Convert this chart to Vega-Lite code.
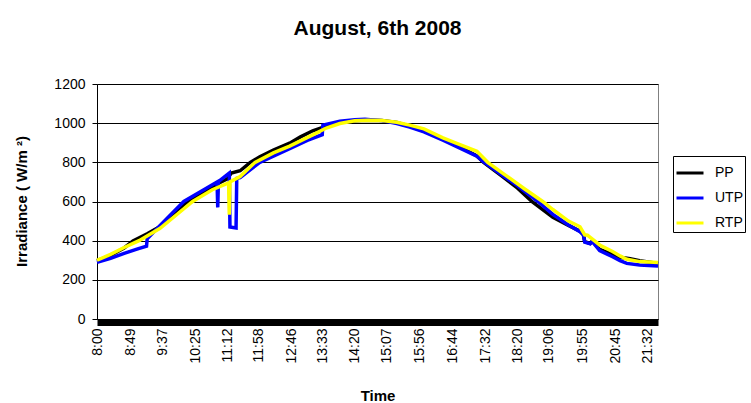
{
  "$schema": "https://vega.github.io/schema/vega-lite/v6.json",
  "width": 561,
  "height": 235,
  "autosize": {"type": "none"},
  "padding": {"left": 97, "top": 84, "right": 93, "bottom": 84},
  "background": "white",
  "config": {"font": "Liberation Sans", "view": {"stroke": "#808080", "strokeWidth": 1}},
  "title": {"text": "August, 6th 2008", "fontSize": 21, "fontWeight": "bold", "font": "Liberation Sans", "color": "black", "offset": 38, "anchor": "middle"},
  "data": {"values": [
    {"s":"PP","t":480,"v":298},{"s":"PP","t":500,"v":325},{"s":"PP","t":520,"v":363},{"s":"PP","t":533,"v":398},{"s":"PP","t":554,"v":435},{"s":"PP","t":573,"v":472},{"s":"PP","t":590,"v":530},{"s":"PP","t":614,"v":600},{"s":"PP","t":640,"v":655},{"s":"PP","t":660,"v":695},{"s":"PP","t":672,"v":715},{"s":"PP","t":678,"v":745},{"s":"PP","t":691,"v":757},{"s":"PP","t":706,"v":800},{"s":"PP","t":720,"v":828},{"s":"PP","t":740,"v":862},{"s":"PP","t":764,"v":898},{"s":"PP","t":780,"v":930},{"s":"PP","t":798,"v":961},{"s":"PP","t":818,"v":985},{"s":"PP","t":838,"v":1003},{"s":"PP","t":860,"v":1012},{"s":"PP","t":880,"v":1015},{"s":"PP","t":900,"v":1013},{"s":"PP","t":922,"v":1003},{"s":"PP","t":941,"v":985},{"s":"PP","t":962,"v":960},{"s":"PP","t":990,"v":918},{"s":"PP","t":1015,"v":878},{"s":"PP","t":1040,"v":833},{"s":"PP","t":1050,"v":800},{"s":"PP","t":1075,"v":735},{"s":"PP","t":1100,"v":668},{"s":"PP","t":1121,"v":600},{"s":"PP","t":1152,"v":519},{"s":"PP","t":1175,"v":478},{"s":"PP","t":1192,"v":449},{"s":"PP","t":1197,"v":430},{"s":"PP","t":1199,"v":395},{"s":"PP","t":1207,"v":386},{"s":"PP","t":1210,"v":398},{"s":"PP","t":1221,"v":355},{"s":"PP","t":1240,"v":330},{"s":"PP","t":1251,"v":315},{"s":"PP","t":1266,"v":308},{"s":"PP","t":1280,"v":298},{"s":"PP","t":1307,"v":283},
    {"s":"UTP","t":480,"v":290},{"s":"UTP","t":500,"v":310},{"s":"UTP","t":520,"v":335},{"s":"UTP","t":540,"v":358},{"s":"UTP","t":553,"v":372},{"s":"UTP","t":554,"v":410},{"s":"UTP","t":573,"v":478},{"s":"UTP","t":608,"v":600},{"s":"UTP","t":640,"v":665},{"s":"UTP","t":657,"v":700},{"s":"UTP","t":658,"v":570},{"s":"UTP","t":659,"v":702},{"s":"UTP","t":675,"v":745},{"s":"UTP","t":676,"v":470},{"s":"UTP","t":685,"v":465},{"s":"UTP","t":686,"v":718},{"s":"UTP","t":691,"v":722},{"s":"UTP","t":720,"v":800},{"s":"UTP","t":764,"v":870},{"s":"UTP","t":790,"v":912},{"s":"UTP","t":812,"v":941},{"s":"UTP","t":813,"v":990},{"s":"UTP","t":838,"v":1010},{"s":"UTP","t":860,"v":1018},{"s":"UTP","t":875,"v":1020},{"s":"UTP","t":900,"v":1013},{"s":"UTP","t":922,"v":998},{"s":"UTP","t":941,"v":980},{"s":"UTP","t":962,"v":956},{"s":"UTP","t":990,"v":913},{"s":"UTP","t":1015,"v":873},{"s":"UTP","t":1040,"v":831},{"s":"UTP","t":1049,"v":805},{"s":"UTP","t":1075,"v":740},{"s":"UTP","t":1100,"v":680},{"s":"UTP","t":1130,"v":600},{"s":"UTP","t":1152,"v":534},{"s":"UTP","t":1175,"v":480},{"s":"UTP","t":1192,"v":446},{"s":"UTP","t":1197,"v":430},{"s":"UTP","t":1199,"v":392},{"s":"UTP","t":1207,"v":384},{"s":"UTP","t":1210,"v":396},{"s":"UTP","t":1221,"v":349},{"s":"UTP","t":1240,"v":318},{"s":"UTP","t":1251,"v":298},{"s":"UTP","t":1261,"v":284},{"s":"UTP","t":1280,"v":276},{"s":"UTP","t":1307,"v":271},
    {"s":"RTP","t":480,"v":300},{"s":"RTP","t":500,"v":330},{"s":"RTP","t":520,"v":365},{"s":"RTP","t":542,"v":400},{"s":"RTP","t":573,"v":463},{"s":"RTP","t":600,"v":540},{"s":"RTP","t":621,"v":600},{"s":"RTP","t":650,"v":660},{"s":"RTP","t":674,"v":695},{"s":"RTP","t":675,"v":532},{"s":"RTP","t":676,"v":700},{"s":"RTP","t":691,"v":727},{"s":"RTP","t":713,"v":800},{"s":"RTP","t":740,"v":848},{"s":"RTP","t":764,"v":883},{"s":"RTP","t":798,"v":940},{"s":"RTP","t":818,"v":975},{"s":"RTP","t":838,"v":998},{"s":"RTP","t":860,"v":1012},{"s":"RTP","t":880,"v":1015},{"s":"RTP","t":900,"v":1014},{"s":"RTP","t":922,"v":1005},{"s":"RTP","t":941,"v":990},{"s":"RTP","t":962,"v":971},{"s":"RTP","t":990,"v":925},{"s":"RTP","t":1015,"v":890},{"s":"RTP","t":1040,"v":856},{"s":"RTP","t":1056,"v":800},{"s":"RTP","t":1080,"v":740},{"s":"RTP","t":1110,"v":665},{"s":"RTP","t":1137,"v":600},{"s":"RTP","t":1152,"v":559},{"s":"RTP","t":1175,"v":500},{"s":"RTP","t":1192,"v":471},{"s":"RTP","t":1199,"v":430},{"s":"RTP","t":1203,"v":428},{"s":"RTP","t":1221,"v":378},{"s":"RTP","t":1240,"v":345},{"s":"RTP","t":1251,"v":322},{"s":"RTP","t":1261,"v":305},{"s":"RTP","t":1280,"v":293},{"s":"RTP","t":1307,"v":288}
  ]},
  "encoding": {
    "x": {"field": "t", "type": "quantitative", "scale": {"domain": [480, 1307], "nice": false, "zero": false},
      "axis": {"values": [480,529,577,625,672,718,766,813,860,907,956,1004,1052,1100,1146,1195,1245,1292],
        "labelExpr": "floor(datum.value/60) + ':' + (datum.value % 60 < 10 ? '0' : '') + (datum.value % 60)",
        "labelAngle": -90, "labelFontSize": 14, "labelColor": "black", "domainColor": "black", "domainWidth": 7, "offset": 3,
        "ticks": false, "labelPadding": 6, "grid": false, "labelOverlap": false, "labelBound": false, "labelFlush": false,
        "title": "Time", "titleFontSize": 15, "titleFontWeight": "bold", "titleColor": "black", "titleY": 66}},
    "y": {"field": "v", "type": "quantitative", "scale": {"domain": [0, 1200], "nice": false},
      "axis": {"values": [0,200,400,600,800,1000,1200], "format": "d", "grid": true, "gridColor": "black", "gridOpacity": 1, "gridWidth": 1,
        "domainColor": "black", "tickColor": "black", "tickSize": 5, "labelFontSize": 14, "labelColor": "black", "labelPadding": 7,
        "title": "Irradiance ( W/m ²)", "titleFontSize": 15, "titleFontWeight": "bold", "titleColor": "black", "titleX": -68, "titleY": 117}},
    "color": {"field": "s", "type": "nominal", "scale": {"domain": ["PP", "UTP", "RTP"], "range": ["#000000", "#0000FF", "#FFFF00"]},
      "legend": {"title": null, "orient": "none", "legendX": 576, "legendY": 72, "symbolType": "stroke", "symbolStrokeWidth": 3, "symbolSize": 729,
        "labelFontSize": 14, "labelColor": "black", "strokeColor": "black", "fillColor": "white", "padding": 2, "rowPadding": 3, "labelOffset": 10}}
  },
  "layer": [
    {"transform": [{"filter": "datum.s === 'PP'"}], "mark": {"type": "line", "strokeWidth": 3.5}},
    {"transform": [{"filter": "datum.s === 'UTP'"}], "mark": {"type": "line", "strokeWidth": 3.5}},
    {"transform": [{"filter": "datum.s === 'RTP'"}], "mark": {"type": "line", "strokeWidth": 3.5}}
  ]
}
